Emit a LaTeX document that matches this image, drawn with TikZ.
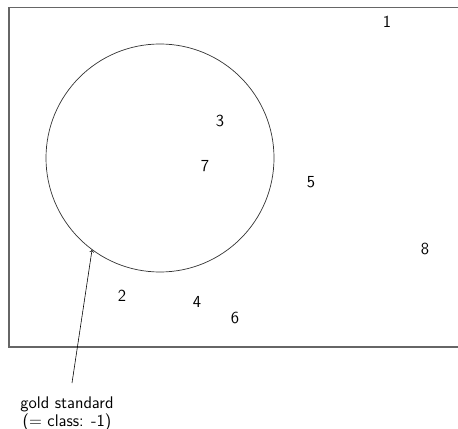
\documentclass[tikz,border=0pt]{standalone}
\begin{document}
\begin{tikzpicture}[x=0.03cm,y=-0.03cm,
  lbl/.style={font=\sffamily\Large, inner sep=1pt},
  frame/.style={draw=black!60, line width=1pt},
  ring/.style={draw=black!80, line width=0.6pt}]
\useasboundingbox (0,0) rectangle (458,428);
\draw[frame] (9,7.5) -- (470,7.5) (9,7.5) -- (9,347) -- (470,347);
\node[ring, circle, minimum size=228*0.03cm, inner sep=0pt] (c) at (160,158) {};
\node[lbl] (n1) at (387,22) {1};
\node[lbl] (n3) at (220,121) {3};
\node[lbl] (n7) at (205,166) {7};
\node[lbl] (n5) at (311,182) {5};
\node[lbl] (n8) at (425,249) {8};
\node[lbl] (n2) at (122,296) {2};
\node[lbl] (n4) at (197,302) {4};
\node[lbl] (n6) at (235,318) {6};
\node[lbl, align=center, anchor=north, inner sep=0pt] (gs) at (67,396.5) {gold standard\\[-3pt](= class: -1)};
\coordinate (p) at (92,250);
\draw[->, line width=0.5pt] (72,383) -- (p);
\end{tikzpicture}
\end{document}
